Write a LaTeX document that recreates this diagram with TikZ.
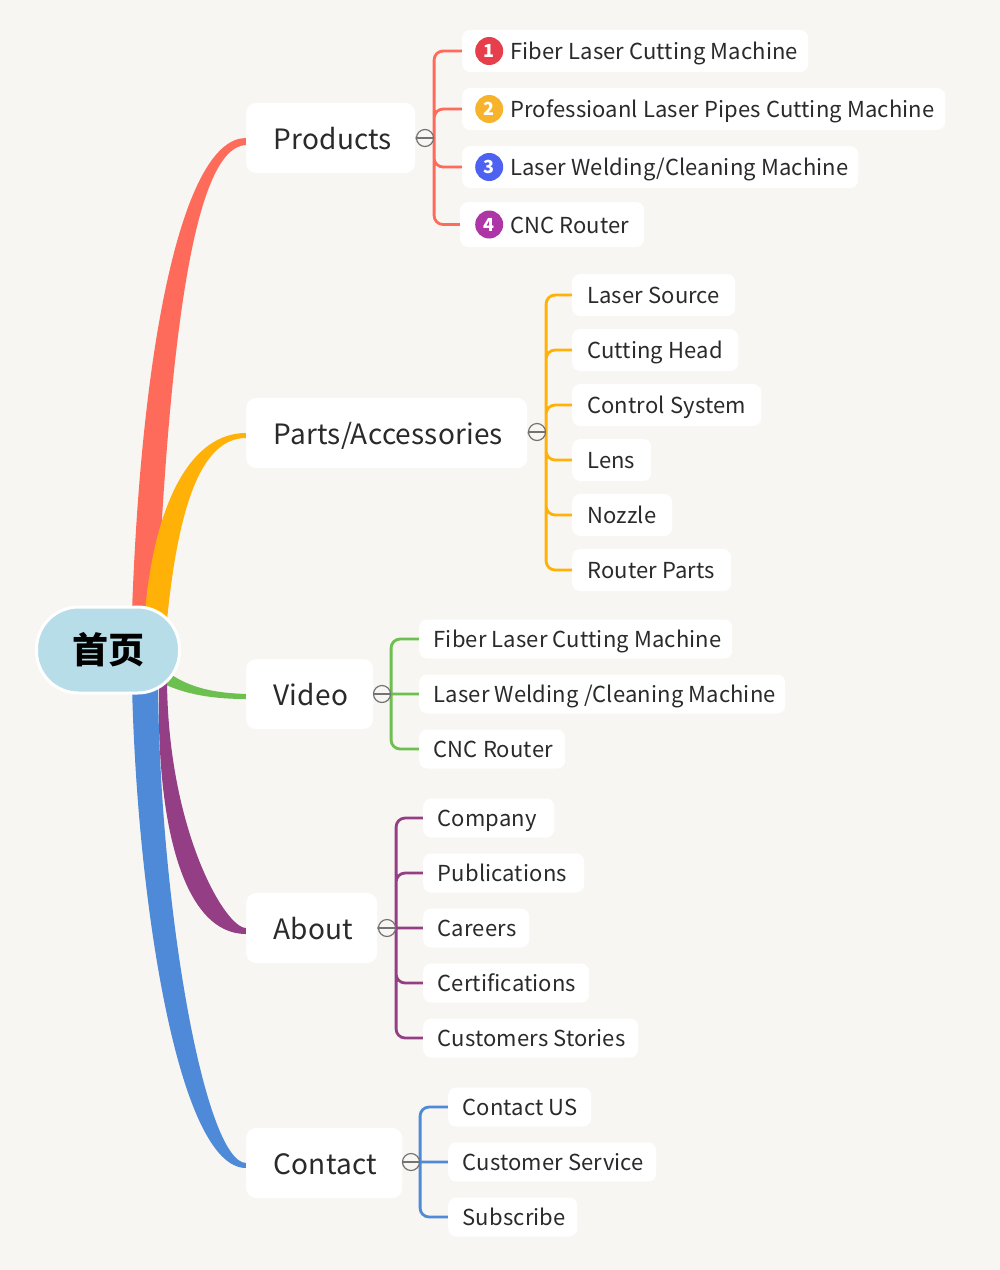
\documentclass[tikz,border=0pt]{standalone}
\usepackage{fontspec}
\usepackage{xcolor}
\usetikzlibrary{backgrounds}
\setmainfont{Noto Sans CJK SC}[LetterSpace=0.7]
\newfontfamily\rootfont{Noto Sans CJK SC}
\definecolor{page-bg}{HTML}{F8F6F2}
\definecolor{ink}{HTML}{2A2A2A}
\definecolor{root-fill}{HTML}{B7DDE9}
\definecolor{red-branch}{HTML}{FF6B5A}
\definecolor{yellow-branch}{HTML}{FFB108}
\definecolor{green-branch}{HTML}{6CC04F}
\definecolor{purple-branch}{HTML}{943F85}
\definecolor{blue-branch}{HTML}{4F8AD8}
\definecolor{badge-red}{HTML}{E63E4B}
\definecolor{badge-amber}{HTML}{F8B32C}
\definecolor{badge-blue}{HTML}{4E62F2}
\definecolor{badge-purple}{HTML}{AE35A6}
\tikzset{
    x=1pt, y=-1pt,
    text-inset/.store in=\textinset,
    root-box/.style = {draw=white, line width=3pt, fill=root-fill, rectangle, rounded corners=42pt, minimum width=143pt, minimum height=86pt, outer sep=0pt, font=\rootfont\fontsize{36}{40}\selectfont\bfseries, text=black},
    top-box/.style = {fill=white, rectangle, rounded corners=10pt, anchor=west, inner xsep=0pt, inner ysep=0pt, text width=#1, align=flush left, minimum height=70pt, text height=25pt, text depth=3pt, text=ink, font=\fontsize{28}{34}\selectfont, text-inset=27.5pt, execute at begin node=\hspace*{\textinset}},
    leaf-box/.style = {fill=white, rectangle, rounded corners=8pt, anchor=west, inner xsep=0pt, inner ysep=0pt, text width=#1, align=flush left, minimum height=42pt, text height=19pt, text depth=2pt, text=ink, font=\fontsize{22}{28}\selectfont, text-inset=14.5pt, execute at begin node=\hspace*{\textinset}},
    short-box/.style = {leaf-box=#1, minimum height=39pt},
    badge-box/.style = {leaf-box=#1, text-inset=48pt},
    toggle/.style = {draw=black!55, line width=1.2pt, fill=page-bg, circle, minimum size=17pt, inner sep=0pt, path picture={\draw[black!55, line width=1.5pt] (path picture bounding box.west) -- (path picture bounding box.east);}},
    badge/.style = {circle, minimum size=28pt, inner sep=0pt, text=white, font=\rootfont\fontsize{18}{20}\selectfont\bfseries},
    link/.style = {line width=2.8pt, rounded corners=9pt},
}
\begin{document}
\begin{tikzpicture}
\useasboundingbox (0,0) rectangle (1000,1270);

% main topics
\node [top-box=169pt] (products) at (246,138) {Products};
\node [top-box=281pt] (parts) at (246,433) {Parts/Accessories};
\node [top-box=127pt] (video) at (246,694) {Video};
\node [top-box=131pt] (about) at (246,928) {About};
\node [top-box=156pt] (contact) at (246,1163) {Contact};

\node [root-box] (root) at (108,650) {首页};

% collapse buttons
\node [toggle] (products-toggle) at (425,138) {};
\node [toggle] (parts-toggle) at (537,432) {};
\node [toggle] (video-toggle) at (382,694) {};
\node [toggle] (about-toggle) at (387,928) {};
\node [toggle] (contact-toggle) at (411,1162) {};

% products
\node [badge-box=346pt] (fiber) at (462,51) {Fiber Laser Cutting Machine};
\node [badge-box=483pt] (pipes) at (462,109) {Professioanl Laser Pipes Cutting Machine};
\node [badge-box=396pt] (welding) at (462,167) {Laser Welding/Cleaning Machine};
\node [badge-box=184pt, minimum height=45pt, text-inset=50pt] (router) at (460,224.5) {CNC Router};
\node [badge, fill=badge-red, right=13pt] at (fiber.west) (badge-a) {1};
\node [badge, fill=badge-amber, right=13pt] at (pipes.west) (badge-b) {2};
\node [badge, fill=badge-blue, right=13pt] at (welding.west) (badge-c) {3};
\node [badge, fill=badge-purple, right=15pt] at (router.west) (badge-d) {4};

% parts
\node [leaf-box=163pt] (source) at (572,295) {\hspace*{.5pt}Laser Source};
\node [leaf-box=166pt] (head) at (572,350) {\hspace*{.5pt}Cutting Head};
\node [leaf-box=189pt] (control) at (572,405) {\hspace*{.5pt}Control System};
\node [leaf-box=79pt] (lens) at (572,460) {\hspace*{.5pt}Lens};
\node [leaf-box=100pt] (nozzle) at (572,515) {\hspace*{.5pt}Nozzle};
\node [leaf-box=159pt] (routerparts) at (572,570) {\hspace*{.5pt}Router Parts};

% video
\node [short-box=313pt] (videofiber) at (419,639) {Fiber Laser Cutting Machine};
\node [short-box=366pt] (videowelding) at (419,694) {Laser Welding /Cleaning Machine};
\node [short-box=146pt] (videorouter) at (419,749) {CNC Router};

% about
\node [short-box=131pt] (company) at (423,818) {Company};
\node [short-box=161pt] (publications) at (423,873) {Publications};
\node [short-box=106pt] (careers) at (423,928) {Careers};
\node [short-box=166pt] (certifications) at (423,983) {Certifications};
\node [short-box=215pt] (stories) at (423,1038) {Customers Stories};

% contact
\node [short-box=143pt] (contactus) at (448,1107) {Contact US};
\node [short-box=208pt] (service) at (448,1162) {Customer Service};
\node [short-box=129pt] (subscribe) at (448,1217) {Subscribe};

\begin{scope}[on background layer]
\fill [page-bg] (0,0) rectangle (1000,1270);

% tapered branches
\fill [red-branch] (132,612) .. controls (142,330) and (185,138) .. (products.west) -- ++(0,7) .. controls (195,147) and (170,330) .. (157,612) -- cycle;
\fill [yellow-branch] (145,612) .. controls (155,500) and (192,433) .. (parts.west) -- ++(0,5) .. controls (200,438) and (178,510) .. (167,620) -- cycle;
\fill [green-branch] (165,670) .. controls (190,690) and (220,693) .. (video.west) -- ++(0,5) .. controls (215,699) and (185,695) .. (160,682) -- cycle;
\fill [purple-branch] (159,685) .. controls (156,830) and (185,934) .. ([yshift=-6pt]about.west) -- (about.west) .. controls (225,928) and (168,830) .. (167,680) -- cycle;
\fill [blue-branch] (132,685) .. controls (137,900) and (178,1168) .. ([yshift=-5pt]contact.west) -- (contact.west) .. controls (205,1162) and (160,910) .. (158,685) -- cycle;

% child connectors
\draw [link, red-branch] (products.east) -- (products-toggle.center)
    (products-toggle.east) |- (fiber.west)
    (products-toggle.east) |- (pipes.west)
    (products-toggle.east) |- (welding.west)
    (products-toggle.east) |- (router.west);
\draw [link, yellow-branch] (parts.east) -- (parts-toggle.center)
    (parts-toggle.east) |- (source.west)
    (parts-toggle.east) |- (head.west)
    (parts-toggle.east) |- (control.west)
    (parts-toggle.east) |- (lens.west)
    (parts-toggle.east) |- (nozzle.west)
    (parts-toggle.east) |- (routerparts.west);
\draw [link, green-branch] (video.east) -- (video-toggle.center)
    (video-toggle.east) |- (videofiber.west)
    (video-toggle.east) -- (videowelding.west)
    (video-toggle.east) |- (videorouter.west);
\draw [link, purple-branch] (about.east) -- (about-toggle.center)
    (about-toggle.east) |- (company.west)
    (about-toggle.east) |- (publications.west)
    (about-toggle.east) -- (careers.west)
    (about-toggle.east) |- (certifications.west)
    (about-toggle.east) |- (stories.west);
\draw [link, blue-branch] (contact.east) -- (contact-toggle.center)
    (contact-toggle.east) |- (contactus.west)
    (contact-toggle.east) -- (service.west)
    (contact-toggle.east) |- (subscribe.west);
\end{scope}
\end{tikzpicture}
\end{document}
